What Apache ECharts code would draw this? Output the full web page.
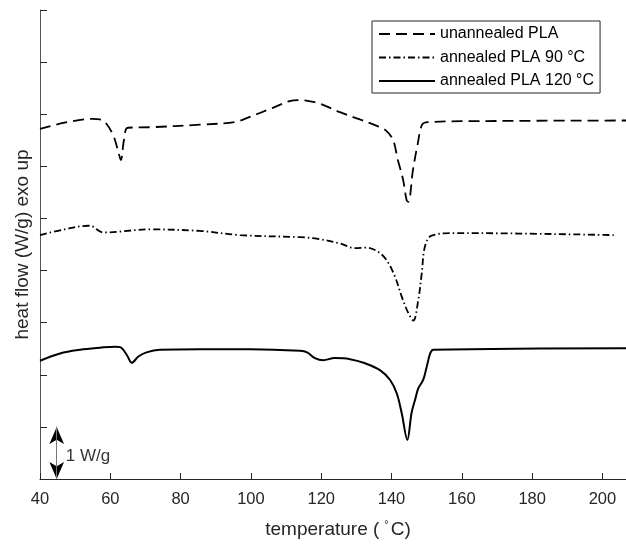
<!DOCTYPE html>
<html>
<head>
<meta charset="utf-8">
<script src="https://cdn.jsdelivr.net/npm/echarts@6/dist/echarts.min.js"></script>
<style>
  html, body { margin: 0; padding: 0; background: #fff; }
  #chart { width: 626px; height: 544px; }
</style>
</head>
<body>
<div id="chart"></div>
<script>
// DSC heating traces, heat flow in W/g (curves shifted vertically, exo up)
const unannealedT  = [40, 55, 57, 58.5, 60.8, 62.2, 63, 63.9, 65, 71.3, 85.5, 95.5, 99.7, 105.4, 111, 114, 116.5, 119.7, 125.3, 131, 135.3, 138.2, 140.4, 141.8, 143.3, 144.3, 144.8, 146.1, 147.5, 148.7, 150.4, 170, 207];
const unannealedHF = [6.72, 6.91, 6.90, 6.85, 6.60, 6.30, 6.12, 6.51, 6.74, 6.75, 6.80, 6.85, 6.95, 7.10, 7.25, 7.27, 7.25, 7.20, 7.04, 6.90, 6.79, 6.70, 6.51, 6.12, 5.74, 5.35, 5.32, 5.93, 6.45, 6.80, 6.85, 6.87, 6.88];

const annealed90T  = [40, 47, 53.7, 54.2, 58, 71.3, 85.5, 96.9, 114, 119, 125.3, 129.6, 133, 136.2, 138.6, 141, 142.9, 144.8, 146.2, 147.6, 148.6, 149.5, 151.4, 158.5, 203.6];
const annealed90HF = [4.68, 4.79, 4.86, 4.86, 4.73, 4.79, 4.76, 4.68, 4.64, 4.61, 4.52, 4.43, 4.44, 4.36, 4.20, 3.88, 3.50, 3.18, 3.04, 3.43, 3.95, 4.46, 4.67, 4.72, 4.68];

const annealed120T  = [40, 45.7, 51.4, 57.1, 61.3, 62.8, 64.7, 66.1, 68, 70.3, 74.1, 85.5, 100, 114, 116, 118.2, 120.6, 123.8, 128.2, 132.5, 136.7, 139.6, 141.5, 142.9, 144.5, 145.7, 146.7, 147.6, 149, 150, 151, 151.9, 207];
const annealed120HF = [2.27, 2.41, 2.48, 2.52, 2.54, 2.53, 2.38, 2.23, 2.35, 2.43, 2.48, 2.49, 2.49, 2.46, 2.43, 2.32, 2.28, 2.32, 2.30, 2.22, 2.09, 1.90, 1.64, 1.26, 0.75, 1.27, 1.52, 1.74, 1.90, 2.15, 2.41, 2.48, 2.51];

const seriesNames = ['unannealed PLA', 'annealed PLA 90 \u00B0C', 'annealed PLA 120 \u00B0C'];
const xTicks = [40, 60, 80, 100, 120, 140, 160, 180, 200];
const yTicks = [0, 1, 2, 3, 4, 5, 6, 7, 8, 9];

// 1 W/g scale bar
const scaleBarT = 44.75;
const scaleBarFrom = 0;
const scaleBarTo = 1;
const scaleBarLabel = '1 W/g';

const zip = (xs, ys) => xs.map((x, i) => [x, ys[i]]);

const FONT = '"Liberation Sans", Arial, Helvetica, sans-serif';
const INK = '#262626';

const chart = echarts.init(document.getElementById('chart'), null, { renderer: 'canvas' });

const lineBase = {
  type: 'line',
  showSymbol: false,
  symbol: 'none',
  smooth: 0.35,
  animation: false,
  z: 3
};

const scaleBarSegment = [{ coord: [scaleBarT, scaleBarFrom] }, { coord: [scaleBarT, scaleBarTo] }];

chart.setOption({
  animation: false,
  backgroundColor: '#ffffff',
  grid: { left: 40, right: 0, top: 10, bottom: 65, containLabel: false },
  legend: {
    data: seriesNames,
    orient: 'vertical',
    left: 372,
    top: 21,
    padding: [5, 6, 4, 6],
    itemWidth: 56,
    itemHeight: 16,
    itemGap: 7.5,
    borderColor: INK,
    borderWidth: 1,
    backgroundColor: '#ffffff',
    // legend samples show only the line, no marker
    itemStyle: { color: 'rgba(0,0,0,0)', borderWidth: 0, opacity: 0 },
    textStyle: { fontFamily: FONT, fontSize: 16, color: '#000' },
    selectedMode: false
  },
  xAxis: {
    type: 'value',
    min: 40,
    max: 206.7,
    name: 'temperature ({sup|\u00B0}C)',
    nameLocation: 'middle',
    nameGap: 40,
    nameTextStyle: {
      fontFamily: FONT, fontSize: 19, color: INK,
      padding: [0, 0, 0, 10],
      rich: { sup: { fontFamily: FONT, fontSize: 11, color: INK, padding: [0, 2, 10, 5] } }
    },
    axisLine: { show: true, onZero: false, lineStyle: { color: INK, width: 1 } },
    axisTick: { show: true, inside: true, length: 6, customValues: xTicks, lineStyle: { color: INK } },
    axisLabel: { customValues: xTicks, fontFamily: FONT, fontSize: 16.5, color: INK, margin: 12 },
    splitLine: { show: false }
  },
  yAxis: {
    type: 'value',
    min: 0,
    max: 9,
    interval: 1,
    name: 'heat flow (W/g) exo up',
    nameLocation: 'middle',
    nameGap: 8,
    nameTextStyle: { fontFamily: FONT, fontSize: 19, color: INK },
    axisLine: { show: true, lineStyle: { color: '#555555', width: 1 } },
    axisTick: { show: true, inside: true, length: 7, customValues: yTicks, lineStyle: { color: INK } },
    axisLabel: { show: false },
    splitLine: { show: false }
  },
  series: [
    Object.assign({}, lineBase, {
      name: seriesNames[0],
      data: zip(unannealedT, unannealedHF),
      lineStyle: { color: '#000', width: 1.8, type: [11, 6] },
      itemStyle: { color: '#000' }
    }),
    Object.assign({}, lineBase, {
      name: seriesNames[1],
      data: zip(annealed90T, annealed90HF),
      lineStyle: { color: '#000', width: 1.8, type: [7, 3, 1.5, 3] },
      itemStyle: { color: '#000' }
    }),
    Object.assign({}, lineBase, {
      name: seriesNames[2],
      data: zip(annealed120T, annealed120HF),
      lineStyle: { color: '#000', width: 2 },
      itemStyle: { color: '#000' }
    }),
    {
      // scale bar: label plus black double arrow
      name: 'scale',
      type: 'scatter',
      silent: true,
      animation: false,
      symbolSize: 0,
      z: 4,
      data: [[scaleBarT, (scaleBarFrom + scaleBarTo) * 0.43]],
      label: {
        show: true, position: 'right', distance: 9,
        formatter: scaleBarLabel,
        fontFamily: FONT, fontSize: 17, color: '#000'
      },
      markLine: {
        silent: true,
        animation: false,
        symbol: ['arrow', 'arrow'],
        symbolSize: [11, 17],
        label: { show: false },
        emphasis: { disabled: true },
        lineStyle: { color: '#000000', width: 1, type: 'solid' },
        data: [scaleBarSegment]
      }
    },
    {
      // grey shaft drawn over the arrow line
      name: 'scaleShaft',
      type: 'scatter',
      silent: true,
      animation: false,
      symbolSize: 0,
      z: 5,
      data: [],
      markLine: {
        silent: true,
        animation: false,
        symbol: 'none',
        label: { show: false },
        emphasis: { disabled: true },
        lineStyle: { color: '#777777', width: 1, type: 'solid' },
        data: [scaleBarSegment]
      }
    }
  ]
});
</script>
</body>
</html>
